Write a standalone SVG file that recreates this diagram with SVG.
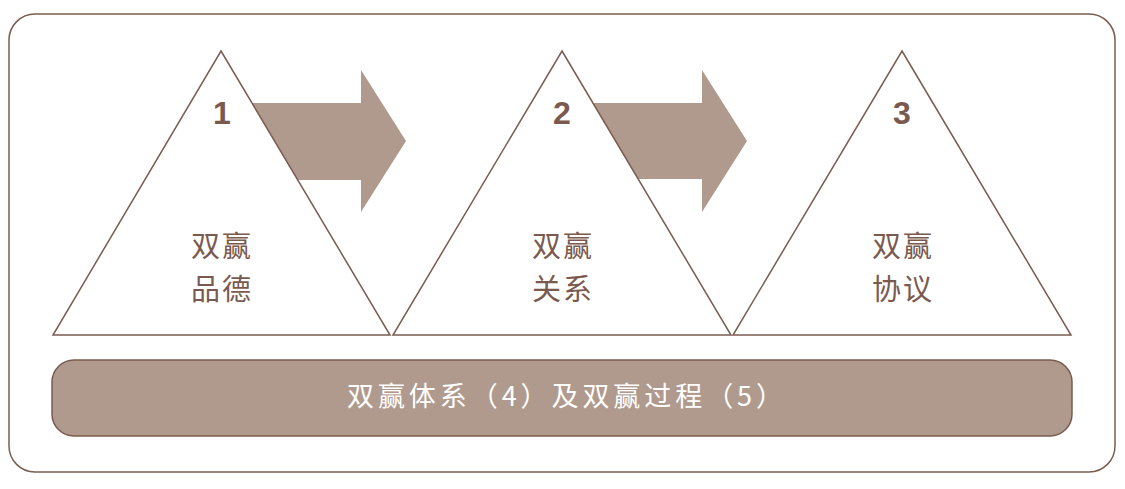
<svg xmlns="http://www.w3.org/2000/svg" width="1125" height="489" viewBox="0 0 1125 489">
<style>
.tri{fill:#ffffff;stroke:#7a5c50;stroke-width:1.5;stroke-linejoin:miter}
.arr{fill:#b09a8e;stroke:none}
.num{font-family:"Liberation Sans",Arial,sans-serif;font-size:32px;font-weight:bold;fill:#7a5a4e;text-anchor:middle}
.lbl{font-family:"Noto Sans CJK SC","Noto Sans",sans-serif;font-size:29px;fill:#7a5a4e;text-anchor:middle;letter-spacing:2px}
.bar{fill:#b09a8e;stroke:#7a5c50;stroke-width:1.5}
.bart{font-family:"Noto Sans CJK SC","Noto Sans",sans-serif;font-size:27px;fill:#ffffff;text-anchor:middle}
</style>
<rect width="1125" height="489" fill="#ffffff"/>
<rect x="9" y="14" width="1106" height="458" rx="26" ry="26" fill="#ffffff" stroke="#7a5c50" stroke-width="1.5"/>
<g id="connectors">
<path class="arr" d="M240 103 H361 V70 L406 141 L361 212 V180 H240 Z"/>
<path class="arr" d="M580 103 H702 V70 L747 141 L702 212 V179 H580 Z"/>
</g>
<g id="node1">
<polygon class="tri" points="221,51 390,335 53,335"/>
<text class="num" x="222" y="124">1</text>
<text class="lbl" x="222" y="257">双赢</text>
<text class="lbl" x="222" y="300">品德</text>
</g>
<g id="node2">
<polygon class="tri" points="562,51 731,335 393,335"/>
<text class="num" x="562" y="124">2</text>
<text class="lbl" x="563" y="257">双赢</text>
<text class="lbl" x="563" y="300">关系</text>
</g>
<g id="node3">
<polygon class="tri" points="902,51 1071,335 733,335"/>
<text class="num" x="902" y="124">3</text>
<text class="lbl" x="903" y="257">双赢</text>
<text class="lbl" x="903" y="300">协议</text>
</g>
<g id="node4">
<rect class="bar" x="52" y="360" width="1020" height="76" rx="22" ry="22"/>
<text class="bart" x="565" y="406" textLength="436" lengthAdjust="spacing">双赢体系（4）及双赢过程（5）</text>
</g>
</svg>
